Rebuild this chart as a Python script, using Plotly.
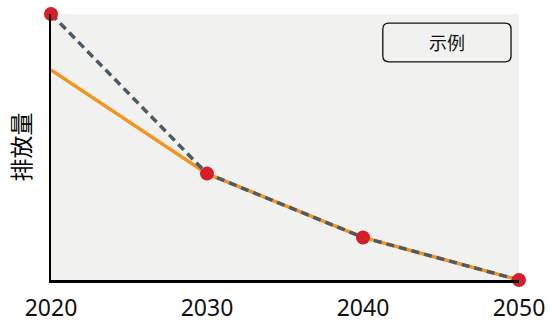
import plotly.graph_objects as go

# Emission pathway data
years = [2020, 2030, 2040, 2050]
baseline = [100, 40, 16, 0]          # dashed path with markers
policy_years = [2020, 2030, 2040, 2050]
policy = [79, 40, 16, 0]             # solid orange path

x_ticks = [2020, 2030, 2040, 2050]
y_title = "排放量"
legend_text = "示例"

ORANGE = "#f2941f"
SLATE = "#4d5b66"
RED = "#d31f2c"

fig = go.Figure()

fig.add_trace(go.Scatter(
    x=policy_years, y=policy, mode="lines",
    line=dict(color=ORANGE, width=3.5),
    cliponaxis=False, showlegend=False, hoverinfo="skip",
))
fig.add_trace(go.Scatter(
    x=years, y=baseline, mode="lines+markers",
    line=dict(color=SLATE, width=3.5, dash="8px,5px"),
    marker=dict(color=RED, size=14),
    cliponaxis=False, showlegend=False, hoverinfo="skip",
))

# Rounded legend box with its caption
x0, x1, y0, y1 = 0.709, 0.983, 0.966, 0.82
r = 0.013
ry = 0.023
path = (
    f"M {x0 + r},{y0} L {x1 - r},{y0} Q {x1},{y0} {x1},{y0 - ry} "
    f"L {x1},{y1 + ry} Q {x1},{y1} {x1 - r},{y1} "
    f"L {x0 + r},{y1} Q {x0},{y1} {x0},{y1 + ry} "
    f"L {x0},{y0 - ry} Q {x0},{y0} {x0 + r},{y0} Z"
)
fig.add_shape(type="path", path=path, xref="paper", yref="paper",
              line=dict(color="#111111", width=1.3), fillcolor="rgba(0,0,0,0)")
fig.add_annotation(x=(x0 + x1) / 2, y=(y0 + y1) / 2, xref="paper", yref="paper",
                   text=legend_text, showarrow=False, xanchor="center", yanchor="middle",
                   font=dict(family="Noto Sans CJK SC", size=18, color="#111111"))

fig.update_layout(
    width=552, height=322,
    margin=dict(l=51, r=33, t=14, b=42),
    paper_bgcolor="white",
    plot_bgcolor="#f1f1f0",
    showlegend=False,
    xaxis=dict(
        range=[2020, 2050], tickvals=x_ticks, ticktext=[str(t) for t in x_ticks],
        showgrid=False, zeroline=False, showline=True, linecolor="black", linewidth=2.5,
        tickfont=dict(family="Noto Sans", size=23, color="#111111"),
        ticks="", ticklabelstandoff=6, automargin=False,
    ),
    yaxis=dict(
        range=[0, 100], showticklabels=False, showgrid=False, zeroline=False,
        showline=True, linecolor="black", linewidth=2, automargin=False,
        title=dict(text=y_title, standoff=12,
                   font=dict(family="Noto Sans CJK SC", size=23, color="black")),
    ),
)

fig.write_html("out.html")
